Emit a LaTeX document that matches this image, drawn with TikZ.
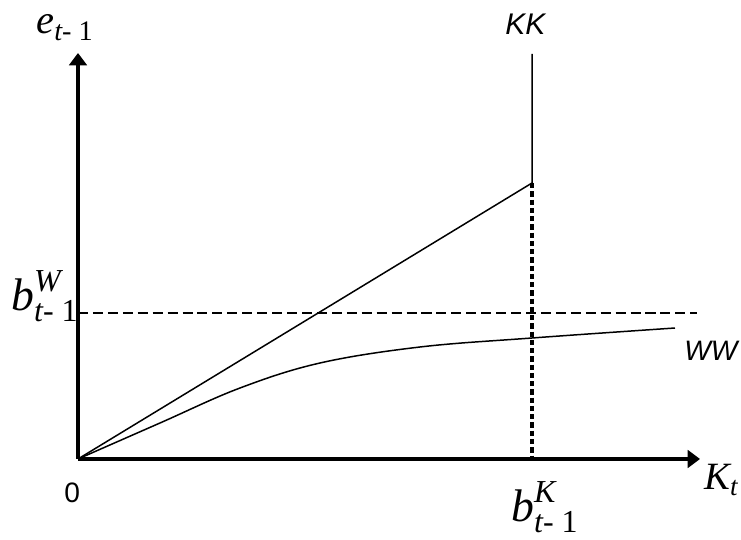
\documentclass[tikz,border=0pt]{standalone}
\usepackage{amsmath}
\usepackage{fontspec}
\setmainfont{Liberation Serif}
\setsansfont{Liberation Sans}
\usetikzlibrary{arrows.meta}

\begin{document}
\begin{tikzpicture}[x=0.02cm, y=-0.02cm,
  axis/.style={line width=2pt, -{Triangle[width=10pt,length=7pt]}},
  thinline/.style={line width=0.85pt},
  mathlbl/.style={anchor=base west, inner sep=0pt, font=\fontsize{23}{26}\selectfont},
  curvelbl/.style={anchor=base west, inner sep=0pt, font=\sffamily\itshape\fontsize{16}{19}\selectfont}]
  \useasboundingbox (0,0) rectangle (741,540);
  \coordinate (O) at (78,459);
  \coordinate (ytop) at (78,53);
  \coordinate (xend) at (700,459);
  \coordinate (kktop) at (532,54);
  \coordinate (kkbend) at (532,183);
  \coordinate (kkfoot) at (532,459);
  \coordinate (bwleft) at (78,313);
  \coordinate (bwright) at (697,313);
  \coordinate (wwend) at (675,328);
  % axes
  \draw[axis] (O) -- (ytop);
  \draw[axis] (O) -- (xend);
  % KK and the bounds
  \draw[thinline] (O) -- (kkbend) -- (kktop);
  \draw[line width=2pt, dash pattern=on 3pt off 1.7pt] (kkbend) -- (kkfoot);
  \draw[line width=1.5pt, dash pattern=on 5.7pt off 2.8pt] (bwleft) -- (bwright);
  % WW
  \draw[thinline] plot[smooth, tension=0.6] coordinates {(O) (160,423) (240,388) (320,363) (420,347) (532,338) (wwend)};
  % labels
  \node[mathlbl] (elbl) at (36,34) {$\textit{e}_{\textit{t}\textup{- 1}}$};
  \node[mathlbl, font=\fontsize{26}{30}\selectfont] (bwlbl) at (11,311) {$\textit{b}^{\textit{W}}_{\textit{t}\textup{- 1}}$};
  \node[mathlbl, font=\fontsize{26}{30}\selectfont] (bklbl) at (511,522) {$\textit{b}^{\textit{K}}_{\textit{t}\textup{- 1}}$};
  \node[mathlbl, font=\fontsize{22}{26}\selectfont] (ktlbl) at (704,490) {$\textit{K}_{\textit{t}}$};
  \node[curvelbl, font=\sffamily\itshape\fontsize{17}{20}\selectfont] (kklbl) at (505,35) {KK};
  \node[curvelbl] (wwlbl) at (684,361) {WW};
  \node[curvelbl, font=\sffamily\fontsize{16}{19}\selectfont] (zero) at (64,503) {0};
\end{tikzpicture}
\end{document}
